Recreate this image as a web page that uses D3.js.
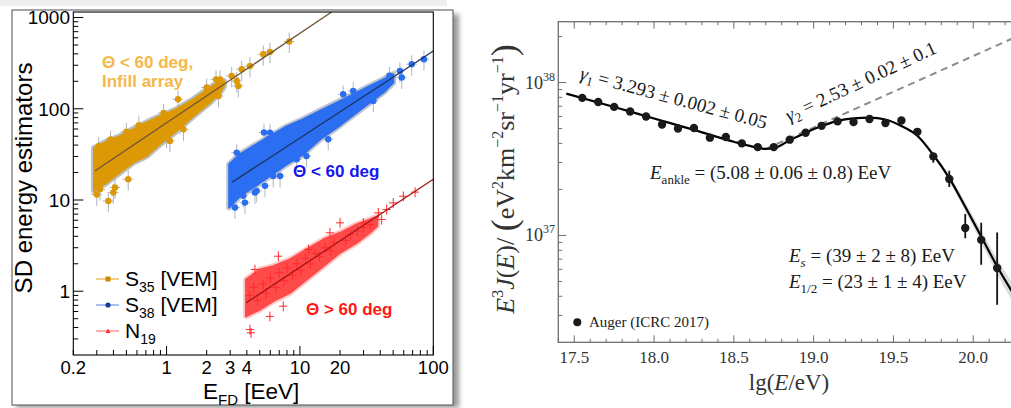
<!DOCTYPE html>
<html><head><meta charset="utf-8">
<script src="https://cdn.jsdelivr.net/npm/d3@7"></script>
<style>body{margin:0;background:#fff}svg{display:block}</style>
</head><body><svg id="c" width="1011" height="408"></svg>
<script>
// ================= LEFT PANEL DATA =================
const leftXTicks = [0.2, 1, 2, 3, 4, 10, 20, 100];
const leftYTicks = [1, 10, 100, 1000];

// S35 (infill, orange) dense-core envelope
const s35EnvX  = [0.286, 0.356, 0.448, 0.564, 0.71, 0.893, 1.19, 1.59, 2.12, 2.52, 2.7];
const s35EnvLo = [12.6, 15.5, 20, 25.7, 30.3, 40.8, 57, 83, 117, 151, 178];
const s35EnvHi = [37, 44, 50, 60, 71, 83, 99, 127, 171, 202, 200];
const s35PtsX = [3.08, 3.36, 3.66, 4.22, 5.31, 5.96, 8.32, 3.45, 2.52, 2.45, 2.0, 2.35, 1.22, 0.366, 0.399, 0.516, 1.34, 1.26, 1.0, 1.06, 0.411, 0.317, 0.31, 0.38, 0.5, 0.62, 0.95, 0.3];
const s35PtsY = [229, 202, 271, 294, 396, 420, 546, 178, 210, 138, 171, 210, 127, 9.75, 12.1, 16.9, 59.5, 70.6, 49.5, 44.4, 13.7, 13.1, 39, 46, 56, 66, 90, 11.5];
const s35FitX = [0.29, 17.3];
const s35FitY = [20.8, 1150];

// S38 (blue)
const s38EnvX  = [2.95, 3.55, 4.47, 5.97, 7.96, 10.6, 14.1, 18.9, 25.1, 33.5, 42.2, 50.1];
const s38EnvLo = [8.3, 11, 13.7, 18.3, 24.6, 31.7, 46, 62, 85, 117, 151, 194];
const s38EnvHi = [24.6, 31.7, 39, 50, 64, 77, 95, 117, 144, 178, 210, 239];
const s38PtsX = [56.2, 68.9, 85.1, 58, 5.97, 5.79, 5.38, 21.1, 25.1, 35.5, 16.3, 11.2, 9.46, 7.1, 5.47, 4.6, 3.87, 3.26, 3.36, 3.76, 4.74, 6.31, 45, 47];
const s38PtsY = [259, 308, 349, 220, 54.8, 46.4, 55, 144, 157, 122, 46.4, 30.3, 27.9, 18.3, 14.3, 12.1, 9.36, 8.26, 33.1, 11.1, 12.6, 18.3, 200, 230];
const s38FitX = [3.11, 100];
const s38FitY = [15.7, 430];

// N19 (red)
const n19EnvX  = [3.94, 5.01, 6.31, 8.42, 11.2, 15.0, 20, 26.6, 33.5, 38];
const n19EnvLo = [0.532, 0.63, 0.777, 0.96, 1.34, 1.88, 2.64, 3.39, 4.37, 5.2];
const n19EnvHi = [1.34, 1.73, 1.88, 2.23, 2.87, 3.69, 4.37, 5.39, 6.11, 6.6];
const n19PtsX = [29.9, 38.7, 41, 50.1, 59.6, 73, 44.7, 6.89, 4.22, 4.3, 5.96, 7.5, 11.6, 20, 16.8, 33.5, 4.6,
                 4.2, 4.5, 4.8, 5.3, 5.6, 6.0, 6.6, 7.0, 7.6, 8.0, 8.8, 9.5, 10.2, 11, 12, 13, 14, 15.5, 17, 18, 22, 24, 27, 30];
const n19PtsY = [5.62, 7.24, 6.11, 9.31, 11.0, 12.2, 7.87, 2.42, 0.38, 0.35, 0.53, 0.685, 2.87, 5.62, 4.37, 5.39, 1.73,
                 0.9, 1.1, 0.8, 1.2, 0.95, 1.4, 1.1, 1.6, 1.3, 1.8, 1.5, 2.0, 1.7, 2.3, 2.0, 2.6, 2.4, 3.0, 2.8, 3.4, 3.6, 4.2, 4.6, 5.0];
const n19FitX = [3.95, 100];
const n19FitY = [0.746, 16.9];

const relErrX = 0.09, relErrY = 0.25;

// ================= RIGHT PANEL DATA =================
const rightXTicks = [17.5, 18.0, 18.5, 19.0, 19.5, 20.0];
const rightYTicks = [1e37, 1e38];
const augerLg  = [17.55, 17.65, 17.75, 17.85, 17.95, 18.05, 18.15, 18.25, 18.35, 18.45, 18.55, 18.65, 18.75, 18.85, 18.95, 19.05, 19.15, 19.25, 19.35, 19.45, 19.55, 19.65, 19.75, 19.85, 19.95, 20.05, 20.15];
const augerE3J = [7.94e37, 7.46e37, 6.93e37, 6.47e37, 6.00e37, 5.32e37, 5.01e37, 5.04e37, 4.36e37, 4.40e37, 4.00e37, 3.78e37, 3.78e37, 4.23e37, 4.69e37, 5.21e37, 5.57e37, 5.51e37, 5.77e37, 5.43e37, 5.65e37, 4.76e37, 3.29e37, 2.34e37, 1.12e37, 9.35e36, 6.12e36];
const errLg = [19.75, 19.85, 19.95, 20.05, 20.15];
const errLo = [2.99e37, 2.07e37, 9.6e36, 6.43e36, 3.52e36];
const errHi = [3.44e37, 2.65e37, 1.38e37, 1.21e37, 1.045e37];
const fitLg  = [17.45, 17.75, 18.0, 18.25, 18.5, 18.6, 18.7, 18.75, 18.85, 18.95, 19.05, 19.15, 19.25, 19.35, 19.45, 19.55, 19.65, 19.75, 19.85, 19.95, 20.05, 20.15, 20.25, 20.3];
const fitE3J = [8.47e37, 6.92e37, 5.82e37, 4.90e37, 4.10e37, 3.85e37, 3.68e37, 3.72e37, 4.19e37, 4.70e37, 5.19e37, 5.61e37, 5.83e37, 5.90e37, 5.73e37, 5.20e37, 4.49e37, 3.36e37, 2.37e37, 1.54e37, 9.84e36, 6.27e36, 4.17e36, 3.4e36];
const bandLg = [19.55, 19.65, 19.75, 19.85, 19.95, 20.05, 20.15, 20.25, 20.3];
const bandLo = [5.14e37, 4.39e37, 3.25e37, 2.25e37, 1.44e37, 8.97e36, 5.59e36, 3.63e36, 2.92e36];
const bandHi = [5.26e37, 4.59e37, 3.48e37, 2.49e37, 1.65e37, 1.08e37, 7.03e36, 4.79e36, 3.94e36];
const dashLg  = [18.7, 20.3];
const dashE3J = [3.68e37, 2.06e38];

// ================= DRAW =================
const svg = d3.select("#c");
const defs = svg.append("defs");
const sans = "'Liberation Sans', Arial, sans-serif";
const serif = "'Liberation Serif', 'Times New Roman', serif";

// ---- left card ----
svg.append("rect").attr("x",0).attr("y",0).attr("width",447).attr("height",6).attr("fill","#efefef");
const blur = defs.append("filter").attr("id","sh").attr("x","-10%").attr("y","-10%").attr("width","125%").attr("height","125%");
blur.append("feGaussianBlur").attr("stdDeviation",2.5);
svg.append("rect").attr("x",16).attr("y",14).attr("width",443).attr("height",394).attr("fill","#9a9a9a").attr("filter","url(#sh)");
svg.append("rect").attr("x",12).attr("y",10).attr("width",441).attr("height",395).attr("fill","#fff").attr("stroke","#6a6a6a").attr("stroke-width",1.2);

const xL = d3.scaleLog().domain([0.2,100]).range([73.3,433.3]);
const yL = d3.scaleLog().domain([0.2,1150]).range([355,12]);
defs.append("clipPath").attr("id","clipL").append("rect").attr("x",73.3).attr("y",12).attr("width",360).attr("height",343);
const gL = svg.append("g");
const plotL = gL.append("g").attr("clip-path","url(#clipL)");

function env(X,Lo,Hi){ return X.map((x,i)=>({x, lo:Lo[i], hi:Hi[i]})); }
const areaL = d3.area().x(d=>xL(d.x)).y0(d=>yL(d.lo)).y1(d=>yL(d.hi));
const lineL = d3.line().x(d=>xL(d[0])).y(d=>yL(d[1]));

function drawSeries(EX,ELo,EHi,PX,PY,col,halo,kind){
  const e = env(EX,ELo,EHi);
  const pts = PX.map((x,i)=>[x,PY[i]]);
  if(kind==="dot"){
    const eb = plotL.append("g").attr("stroke",halo).attr("stroke-width",1);
    pts.forEach(p=>{
      eb.append("line").attr("x1",xL(p[0])).attr("x2",xL(p[0])).attr("y1",yL(p[1]*(1-relErrY))).attr("y2",yL(p[1]*(1+relErrY)));
      eb.append("line").attr("y1",yL(p[1])).attr("y2",yL(p[1])).attr("x1",xL(p[0]*(1-relErrX))).attr("x2",xL(p[0]*(1+relErrX)));
    });
  }
  plotL.append("path").attr("d",areaL(e)).attr("fill",halo).attr("stroke",halo).attr("stroke-width",6).attr("stroke-linejoin","round").attr("opacity",kind==="cross"?0.55:0.8);
  plotL.append("path").attr("d",areaL(e)).attr("fill",col).attr("stroke",col).attr("stroke-width",2).attr("stroke-linejoin","round").attr("opacity",kind==="cross"?0.85:1);
  if(kind==="dot"){
    plotL.append("g").selectAll("circle").data(pts).join("circle")
      .attr("cx",d=>xL(d[0])).attr("cy",d=>yL(d[1])).attr("r",3.2).attr("fill",col);
  }
}
drawSeries(s35EnvX,s35EnvLo,s35EnvHi,s35PtsX,s35PtsY,"#dd9806","#a9b2bd","dot");
drawSeries(s38EnvX,s38EnvLo,s38EnvHi,s38PtsX,s38PtsY,"#2b6ef2","#b0b6be","dot");
drawSeries(n19EnvX,n19EnvLo,n19EnvHi,n19PtsX,n19PtsY,"#ff3434","#ffa0a0","cross");
// red crosses
const rc = plotL.append("g").attr("stroke","#ff2a2a").attr("stroke-width",1);
n19PtsX.forEach((x,i)=>{
  const y = n19PtsY[i];
  rc.append("line").attr("x1",xL(x)).attr("x2",xL(x)).attr("y1",yL(y*0.88)).attr("y2",yL(y*1.13));
  rc.append("line").attr("y1",yL(y)).attr("y2",yL(y)).attr("x1",xL(x*0.93)).attr("x2",xL(x*1.07));
});
// fit lines
plotL.append("path").attr("d",lineL(d3.zip(s35FitX,s35FitY))).attr("stroke","#6b5636").attr("stroke-width",1.3).attr("fill","none");
plotL.append("path").attr("d",lineL(d3.zip(s38FitX,s38FitY))).attr("stroke","#1d3464").attr("stroke-width",1.3).attr("fill","none");
plotL.append("path").attr("d",lineL(d3.zip(n19FitX,n19FitY))).attr("stroke","#a8141a").attr("stroke-width",1.3).attr("fill","none");

// frame
gL.append("rect").attr("x",73.3).attr("y",12).attr("width",360).attr("height",343).attr("fill","none").attr("stroke","#000").attr("stroke-width",1.1);
// ticks
const minorL = [];
[-1,0,1,2,3].forEach(k=>{ for(let m=1;m<10;m++){ minorL.push(m*Math.pow(10,k)); } });
const tk = gL.append("g").attr("stroke","#000").attr("stroke-width",1);
minorL.filter(v=>v>=0.2&&v<=100).forEach(v=>{
  const major = [1,10,100].some(M=>Math.abs(v-M)<1e-9*M);
  tk.append("line").attr("x1",xL(v)).attr("x2",xL(v)).attr("y1",355).attr("y2",355-(major?9:5));
});
minorL.filter(v=>v>0.2&&v<=1150).forEach(v=>{
  const major = [1,10,100,1000].some(M=>Math.abs(v-M)<1e-9*M);
  tk.append("line").attr("y1",yL(v)).attr("y2",yL(v)).attr("x1",73.3).attr("x2",73.3+(major?10:5));
});
gL.append("g").selectAll("text").data(leftXTicks).join("text")
  .attr("x",d=>xL(d)).attr("y",374).attr("text-anchor","middle")
  .attr("font-family",sans).attr("font-size",18.5).text(d=>String(d));
gL.append("g").selectAll("text").data(leftYTicks).join("text")
  .attr("x",70).attr("y",d=>yL(d)).attr("dy","0.36em").attr("text-anchor","end")
  .attr("font-family",sans).attr("font-size",19).text(d=>String(d));
// axis titles
const xt = gL.append("text").attr("x",203).attr("y",399).attr("font-family",sans).attr("font-size",22.5);
xt.append("tspan").text("E");
xt.append("tspan").attr("font-size",15).attr("dy",6).text("FD");
xt.append("tspan").attr("dy",-6).text(" [EeV]");
gL.append("text").attr("transform","translate(32,178) rotate(-90)").attr("text-anchor","middle")
  .attr("font-family",sans).attr("font-size",24).text("SD energy estimators");
// annotations
const ann = [["Θ < 60 deg,",102,68,"#f5b848"],["Infill array",102,87,"#f5b848"],["Θ < 60 deg",293,177,"#1616ee"],["Θ > 60 deg",306,315,"#ff1616"]];
gL.append("g").selectAll("text").data(ann).join("text").attr("x",d=>d[1]).attr("y",d=>d[2])
  .attr("fill",d=>d[3]).attr("font-family",sans).attr("font-weight","bold").attr("font-size",17).text(d=>d[0]);
// legend
const legItems = [["35","#f2c06e","#c98a00","sq",279],["38","#8fb2f0","#173aa0","ci",305],["19","#ff9c9c","#ff3030","tr",331]];
legItems.forEach((it,i)=>{
  const y = it[4];
  gL.append("line").attr("x1",96).attr("x2",119).attr("y1",y).attr("y2",y).attr("stroke",it[1]).attr("stroke-width",1.6);
  if(it[3]==="sq") gL.append("rect").attr("x",105.5).attr("y",y-2.5).attr("width",5).attr("height",5).attr("fill",it[2]);
  if(it[3]==="ci") gL.append("circle").attr("cx",108).attr("cy",y).attr("r",2.6).attr("fill",it[2]);
  if(it[3]==="tr") gL.append("path").attr("d",`M105.5,${y+2}L110.5,${y+2}L108,${y-2.5}Z`).attr("fill",it[2]);
  const t = gL.append("text").attr("x",125).attr("y",y+7).attr("font-family",sans).attr("font-size",21);
  t.append("tspan").text(i<2?"S":"N");
  t.append("tspan").attr("font-size",14).attr("dy",6).text(it[0]);
  if(i<2) t.append("tspan").attr("dy",-6).text(" [VEM]");
});

// ---- RIGHT PANEL ----
const xR = d3.scaleLinear().domain([17.4,20.3]).range([558.3,1021.1]);
const yR = d3.scaleLog().domain([2e36,2.5e38]).range([342.3,21.7]);
defs.append("clipPath").attr("id","clipR").append("rect").attr("x",558.3).attr("y",21.7).attr("width",462.8).attr("height",320.6);
const gR = svg.append("g");
const plotR = gR.append("g").attr("clip-path","url(#clipR)");
const lineR = d3.line().x(d=>xR(d[0])).y(d=>yR(d[1]));
const smooth = d3.line().x(d=>xR(d[0])).y(d=>yR(d[1])).curve(d3.curveMonotoneX);
const bandArea = d3.area().x(d=>xR(d[0])).y0(d=>yR(d[1])).y1(d=>yR(d[2])).curve(d3.curveMonotoneX);
plotR.append("path").attr("d",bandArea(bandLg.map((x,i)=>[x,bandLo[i],bandHi[i]]))).attr("fill","#d8d8d8").attr("opacity",0.9);
plotR.append("path").attr("d",lineR(d3.zip(dashLg,dashE3J))).attr("stroke","#8c8c8c").attr("stroke-width",2).attr("stroke-dasharray","7,5").attr("fill","none");
plotR.append("path").attr("d",smooth(d3.zip(fitLg,fitE3J))).attr("stroke","#000").attr("stroke-width",2.2).attr("fill","none");
plotR.append("g").selectAll("line").data(errLg.map((x,i)=>[x,errLo[i],errHi[i]])).join("line")
  .attr("x1",d=>xR(d[0])).attr("x2",d=>xR(d[0])).attr("y1",d=>yR(d[1])).attr("y2",d=>yR(d[2]))
  .attr("stroke","#111").attr("stroke-width",1.8);
plotR.append("g").selectAll("circle").data(d3.zip(augerLg,augerE3J)).join("circle")
  .attr("cx",d=>xR(d[0])).attr("cy",d=>yR(d[1])).attr("r",4.2).attr("fill","#1a1a1a");

// frame
const fr = gR.append("g").attr("stroke","#707070").attr("stroke-width",1.3).attr("fill","none");
fr.append("rect").attr("x",558.3).attr("y",21.7).attr("width",462.8).attr("height",320.6);
const tkR = gR.append("g").attr("stroke","#707070").attr("stroke-width",1);
for(let i=0;i<=29;i++){
  const v = 17.4 + i*0.1;
  const major = rightXTicks.some(t=>Math.abs(t-v)<1e-6);
  const L = major?7:3.5;
  tkR.append("line").attr("x1",xR(v)).attr("x2",xR(v)).attr("y1",342.3).attr("y2",342.3-L);
  tkR.append("line").attr("x1",xR(v)).attr("x2",xR(v)).attr("y1",21.7).attr("y2",21.7+L);
}
[36,37,38].forEach(k=>{ for(let m=1;m<10;m++){ const v=m*Math.pow(10,k); if(v>2e36-1&&v<=2.5e38){
  const L = m===1?8:4;
  tkR.append("line").attr("y1",yR(v)).attr("y2",yR(v)).attr("x1",558.3).attr("x2",558.3+L);
}}});
gR.append("g").selectAll("text").data(rightXTicks).join("text")
  .attr("x",d=>xR(d)).attr("y",362.5).attr("text-anchor","middle").attr("fill","#333")
  .attr("font-family",serif).attr("font-size",17).text(d=>d3.format(".1f")(d));
rightYTicks.forEach(v=>{
  const t = gR.append("text").attr("x",555).attr("y",yR(v)+6).attr("text-anchor","end").attr("fill","#333").attr("font-family",serif).attr("font-size",18);
  t.append("tspan").text("10");
  t.append("tspan").attr("font-size",12).attr("dy",-8).text(String(Math.round(Math.log10(v))));
});
// axis titles
const xtr = gR.append("text").attr("x",789).attr("y",390).attr("text-anchor","middle").attr("fill","#333").attr("font-family",serif).attr("font-size",23);
xtr.append("tspan").text("lg(");
xtr.append("tspan").attr("font-style","italic").text("E");
xtr.append("tspan").text("/eV)");
const ytr = gR.append("text").attr("transform","translate(514,179) rotate(-90)").attr("text-anchor","middle").attr("fill","#333").attr("font-family",serif).attr("font-size",26);
ytr.append("tspan").attr("font-style","italic").text("E");
ytr.append("tspan").attr("font-size",16).attr("dy",-11).text("3");
ytr.append("tspan").attr("dy",11).attr("font-style","italic").text("J");
ytr.append("tspan").text("(");
ytr.append("tspan").attr("font-style","italic").text("E");
ytr.append("tspan").text(")/ ");
ytr.append("tspan").attr("font-size",36).attr("dy",2).text("(");
ytr.append("tspan").attr("dy",-2).text("eV");
ytr.append("tspan").attr("font-size",16).attr("dy",-11).text("2");
ytr.append("tspan").attr("dy",11).text("km");
ytr.append("tspan").attr("font-size",16).attr("dy",-11).text("−2");
ytr.append("tspan").attr("dy",11).text("sr");
ytr.append("tspan").attr("font-size",16).attr("dy",-11).text("−1");
ytr.append("tspan").attr("dy",11).text("yr");
ytr.append("tspan").attr("font-size",16).attr("dy",-11).text("−1");
ytr.append("tspan").attr("font-size",36).attr("dy",13).text(")");

// annotations
const fs = 19;
function annot(tr, parts){
  const t = gR.append("text").attr("transform",tr).attr("fill","#1a1a1a").attr("font-family",serif).attr("font-size",fs);
  parts.forEach(p=>{ const s=t.append("tspan").text(p[0]); if(p[1]) s.attr("font-style","italic"); if(p[2]) s.attr("font-size",p[2]); if(p[3]) s.attr("dy",p[3]); });
}
annot("translate(579,79) rotate(15)", [["γ",1],["1",0,13,4],[" = 3.293 ± 0.002 ± 0.05",0,0,-4]]);
annot("translate(789,122) rotate(-25)", [["γ",1],["2",0,13,4],[" = 2.53 ± 0.02 ± 0.1",0,0,-4]]);
annot("translate(650,179)", [["E",1],["ankle",0,13,5],[" = (5.08 ± 0.06 ± 0.8) EeV",0,0,-5]]);
annot("translate(789,262)", [["E",1],["s",1,13,5],[" = (39 ± 2 ± 8) EeV",0,0,-5]]);
annot("translate(789,288)", [["E",1],["1/2",0,13,5],[" = (23 ± 1 ± 4) EeV",0,0,-5]]);
// legend
gR.append("circle").attr("cx",577.3).attr("cy",322.3).attr("r",4).attr("fill","#1a1a1a");
gR.append("text").attr("x",589).attr("y",327).attr("fill","#1a1a1a").attr("font-family",serif).attr("font-size",15).text("Auger (ICRC 2017)");
</script></body></html>
